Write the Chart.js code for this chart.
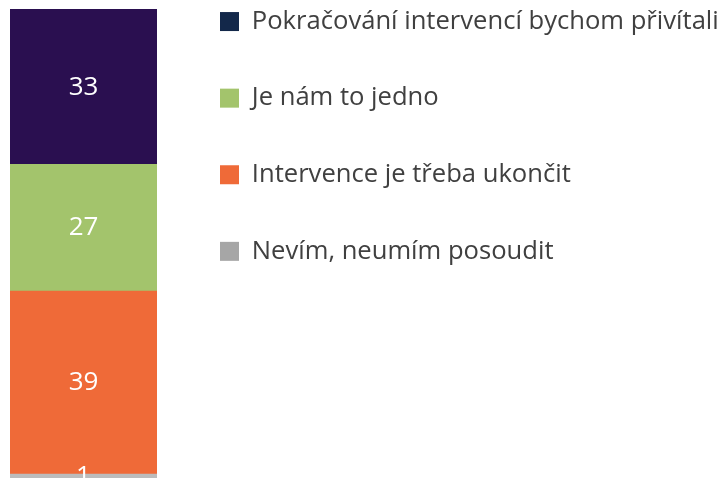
<!DOCTYPE html>
<html>
<head>
<meta charset="utf-8">
<script src="https://cdn.jsdelivr.net/npm/chart.js@4/dist/chart.umd.min.js"></script>
<style>
  html, body { margin: 0; padding: 0; background: #ffffff; }
  #wrap { width: 721px; height: 478px; }
</style>
</head>
<body>
<div id="wrap"><canvas id="c" width="721" height="478"></canvas></div>
<script>
// ---- data ----
const categories = [''];
const seriesNames = [
  'Pokračování intervencí bychom přivítali',
  'Je nám to jedno',
  'Intervence je třeba ukončit',
  'Nevím, neumím posoudit'
];
const continueValues = [33];
const indifferentValues = [27];
const endValues = [39];
const dontKnowValues = [1];
const axisMin = 0;
const axisMax = 100;

// ---- styles ----
const barColors = ['#2a0f50', '#a3c46c', '#ef6a38', '#bcbcbc'];
const legendColors = ['#13284a', '#a3c46c', '#ef6a38', '#a6a6a6'];
const FONT = "'Open Sans', 'DejaVu Sans', sans-serif";
const LEGEND_SIZE = 25.6;
const LEGEND_PAD = 51;

const seriesValues = [continueValues, indifferentValues, endValues, dontKnowValues];

const legendPlace = {
  id: 'legendPlace',
  afterInit(chart) {
    const lg = chart.legend;
    if (!lg || lg._patched) return;
    const orig = lg.fit.bind(lg);
    lg.fit = function () { orig(); this.width = 721 - 157; };
    lg._patched = true;
  },
  afterLayout(chart) {
    const lg = chart.legend;
    if (!lg) return;
    lg.left = 220 - LEGEND_PAD;
    lg.right = 721;
    lg.top = 8.75 - LEGEND_PAD;
    lg.bottom = lg.top + 600;
  }
};

const valueLabels = {
  id: 'valueLabels',
  afterDatasetsDraw(chart) {
    const ctx = chart.ctx;
    ctx.save();
    ctx.fillStyle = '#ffffff';
    ctx.font = "26px " + FONT;
    ctx.textAlign = 'center';
    ctx.textBaseline = 'middle';
    chart.data.datasets.forEach((ds, di) => {
      const meta = chart.getDatasetMeta(di);
      meta.data.forEach((el, i) => {
        const p = el.getProps(['x', 'y', 'base'], true);
        ctx.fillText(String(ds.data[i]), p.x, (p.y + p.base) / 2 + 1);
      });
    });
    ctx.restore();
  }
};

new Chart(document.getElementById('c'), {
  type: 'bar',
  data: {
    labels: categories,
    datasets: seriesNames.map((name, i) => ({
      label: name,
      data: seriesValues[i],
      backgroundColor: barColors[i],
      borderWidth: 0,
      categoryPercentage: 1,
      barPercentage: 1
    }))
  },
  options: {
    responsive: false,
    animation: false,
    devicePixelRatio: 1,
    layout: { padding: { left: 10, top: 9, right: 0, bottom: 0 } },
    scales: {
      x: { display: false, stacked: true },
      y: { display: false, stacked: true, reverse: true, min: axisMin, max: axisMax }
    },
    plugins: {
      tooltip: { enabled: false },
      legend: {
        position: 'right',
        align: 'start',
        labels: {
          boxWidth: 19,
          boxHeight: 19,
          padding: LEGEND_PAD,
          color: '#404040',
          font: { family: FONT, size: LEGEND_SIZE },
          generateLabels(chart) {
            const items = Chart.defaults.plugins.legend.labels.generateLabels(chart);
            items.forEach((it, i) => {
              it.fillStyle = legendColors[i];
              it.strokeStyle = legendColors[i];
              it.lineWidth = 0;
            });
            return items;
          }
        }
      }
    }
  },
  plugins: [legendPlace, valueLabels]
});
</script>
</body>
</html>
